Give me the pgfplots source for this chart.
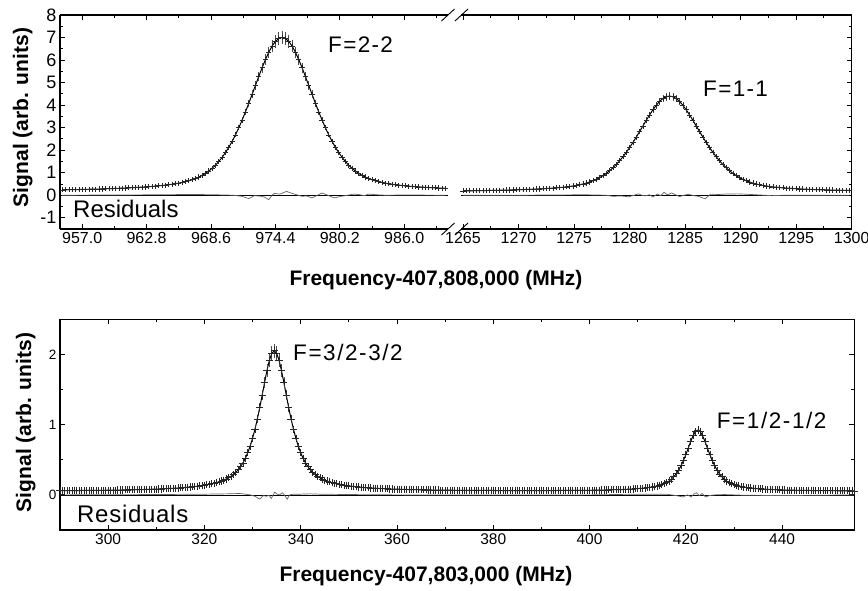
\documentclass[border=0pt]{standalone}
\usepackage{fontspec}
\setmainfont{Liberation Sans}
\usepackage{pgfplots}
\usepackage{pgfplotstable}
\pgfplotsset{compat=1.18}

\newcommand\fs[1]{\fontsize{#1}{#1}\selectfont}

% F=2-2 line (upper panel, left part)
\pgfplotstableread{
x y
955.2 0.238
955.5 0.241
955.8 0.244
956.1 0.247
956.4 0.249
956.7 0.253
957.0 0.256
957.3 0.260
957.6 0.264
957.9 0.267
958.2 0.271
958.5 0.275
958.8 0.280
959.1 0.285
959.4 0.290
959.7 0.295
960.0 0.301
960.3 0.307
960.6 0.313
960.9 0.319
961.2 0.327
961.5 0.334
961.8 0.342
962.1 0.350
962.4 0.359
962.7 0.369
963.0 0.379
963.3 0.391
963.6 0.403
963.9 0.416
964.2 0.432
964.5 0.447
964.8 0.466
965.1 0.486
965.4 0.509
965.7 0.534
966.0 0.564
966.3 0.599
966.6 0.638
966.9 0.686
967.2 0.740
967.5 0.805
967.8 0.880
968.1 0.969
968.4 1.073
968.7 1.195
969.0 1.334
969.3 1.497
969.6 1.682
969.9 1.891
970.2 2.126
970.5 2.391
970.8 2.678
971.1 2.995
971.4 3.334
971.7 3.699
972.0 4.079
972.3 4.474
972.6 4.874
972.9 5.274
973.2 5.660
973.5 6.023
973.8 6.347
974.1 6.620
974.4 6.827
974.7 6.956
975.0 7.000
975.3 6.956
975.6 6.827
975.9 6.620
976.2 6.347
976.5 6.023
976.8 5.660
977.1 5.274
977.4 4.874
977.7 4.474
978.0 4.079
978.3 3.699
978.6 3.334
978.9 2.995
979.2 2.678
979.5 2.391
979.8 2.126
980.1 1.891
980.4 1.682
980.7 1.497
981.0 1.334
981.3 1.195
981.6 1.073
981.9 0.969
982.2 0.880
982.5 0.805
982.8 0.740
983.1 0.686
983.4 0.638
983.7 0.599
984.0 0.564
984.3 0.534
984.6 0.509
984.9 0.486
985.2 0.466
985.5 0.447
985.8 0.432
986.1 0.416
986.4 0.403
986.7 0.391
987.0 0.379
987.3 0.369
987.6 0.359
987.9 0.350
988.2 0.342
988.5 0.334
988.8 0.327
989.1 0.319
989.4 0.313
989.7 0.307
}\tabA

% F=1-1 line (upper panel, right part)
\pgfplotstableread{
x y
1265.0 0.192
1265.3 0.194
1265.6 0.196
1265.9 0.198
1266.2 0.201
1266.5 0.203
1266.8 0.206
1267.1 0.208
1267.4 0.211
1267.7 0.214
1268.0 0.217
1268.3 0.221
1268.6 0.224
1268.9 0.228
1269.2 0.232
1269.5 0.235
1269.8 0.240
1270.1 0.244
1270.4 0.250
1270.7 0.255
1271.0 0.260
1271.3 0.267
1271.6 0.273
1271.9 0.280
1272.2 0.288
1272.5 0.296
1272.8 0.305
1273.1 0.315
1273.4 0.327
1273.7 0.339
1274.0 0.354
1274.3 0.370
1274.6 0.388
1274.9 0.410
1275.2 0.434
1275.5 0.464
1275.8 0.498
1276.1 0.538
1276.4 0.585
1276.7 0.641
1277.0 0.705
1277.3 0.781
1277.6 0.868
1277.9 0.969
1278.2 1.085
1278.5 1.215
1278.8 1.362
1279.1 1.527
1279.4 1.706
1279.7 1.904
1280.0 2.115
1280.3 2.342
1280.6 2.579
1280.9 2.826
1281.2 3.075
1281.5 3.324
1281.8 3.565
1282.1 3.791
1282.4 3.993
1282.7 4.163
1283.0 4.292
1283.3 4.372
1283.6 4.400
1283.9 4.372
1284.2 4.292
1284.5 4.163
1284.8 3.993
1285.1 3.791
1285.4 3.565
1285.7 3.324
1286.0 3.075
1286.3 2.826
1286.6 2.579
1286.9 2.342
1287.2 2.115
1287.5 1.904
1287.8 1.706
1288.1 1.527
1288.4 1.362
1288.7 1.215
1289.0 1.085
1289.3 0.969
1289.6 0.868
1289.9 0.781
1290.2 0.705
1290.5 0.641
1290.8 0.585
1291.1 0.538
1291.4 0.498
1291.7 0.464
1292.0 0.434
1292.3 0.410
1292.6 0.388
1292.9 0.370
1293.2 0.354
1293.5 0.339
1293.8 0.327
1294.1 0.315
1294.4 0.305
1294.7 0.296
1295.0 0.288
1295.3 0.280
1295.6 0.273
1295.9 0.267
1296.2 0.260
1296.5 0.255
1296.8 0.250
1297.1 0.244
1297.4 0.240
1297.7 0.235
1298.0 0.232
1298.3 0.228
1298.6 0.224
1298.9 0.221
1299.2 0.217
1299.5 0.214
1299.8 0.211
}\tabB

% lower panel, F=3/2-3/2 and F=1/2-1/2
\pgfplotstableread{
x y
290 0.060
290.5 0.061
291 0.061
291.5 0.061
292 0.061
292.5 0.061
293 0.062
293.5 0.062
294 0.062
294.5 0.063
295 0.063
295.5 0.063
296 0.064
296.5 0.064
297 0.064
297.5 0.065
298 0.065
298.5 0.065
299 0.066
299.5 0.066
300 0.067
300.5 0.067
301 0.068
301.5 0.068
302 0.069
302.5 0.069
303 0.070
303.5 0.071
304 0.071
304.5 0.072
305 0.073
305.5 0.073
306 0.074
306.5 0.075
307 0.076
307.5 0.077
308 0.078
308.5 0.079
309 0.080
309.5 0.081
310 0.082
310.5 0.084
311 0.085
311.5 0.087
312 0.088
312.5 0.090
313 0.092
313.5 0.094
314 0.096
314.5 0.098
315 0.100
315.5 0.103
316 0.106
316.5 0.109
317 0.112
317.5 0.115
318 0.119
318.5 0.123
319 0.128
319.5 0.133
320 0.138
320.5 0.144
321 0.151
321.5 0.158
322 0.166
322.5 0.175
323 0.185
323.5 0.197
324 0.210
324.5 0.226
325 0.243
325.5 0.265
326 0.290
326.5 0.320
327 0.357
327.5 0.401
328 0.455
328.5 0.521
329 0.600
329.5 0.694
330 0.806
330.5 0.935
331 1.082
331.5 1.245
332 1.421
332.5 1.601
333 1.772
333.5 1.918
334 2.016
334.5 2.051
335 2.016
335.5 1.918
336 1.772
336.5 1.601
337 1.421
337.5 1.245
338 1.082
338.5 0.935
339 0.806
339.5 0.694
340 0.600
340.5 0.521
341 0.455
341.5 0.401
342 0.357
342.5 0.320
343 0.290
343.5 0.265
344 0.243
344.5 0.226
345 0.210
345.5 0.197
346 0.185
346.5 0.175
347 0.166
347.5 0.158
348 0.151
348.5 0.144
349 0.138
349.5 0.133
350 0.128
350.5 0.123
351 0.119
351.5 0.116
352 0.112
352.5 0.109
353 0.106
353.5 0.103
354 0.101
354.5 0.098
355 0.096
355.5 0.094
356 0.092
356.5 0.090
357 0.089
357.5 0.087
358 0.086
358.5 0.084
359 0.083
359.5 0.082
360 0.081
360.5 0.080
361 0.079
361.5 0.078
362 0.077
362.5 0.076
363 0.075
363.5 0.074
364 0.074
364.5 0.073
365 0.072
365.5 0.072
366 0.071
366.5 0.070
367 0.070
367.5 0.069
368 0.069
368.5 0.069
369 0.068
369.5 0.068
370 0.067
370.5 0.067
371 0.067
371.5 0.066
372 0.066
372.5 0.066
373 0.065
373.5 0.065
374 0.065
374.5 0.065
375 0.064
375.5 0.064
376 0.064
376.5 0.064
377 0.064
377.5 0.063
378 0.063
378.5 0.063
379 0.063
379.5 0.063
380 0.063
380.5 0.062
381 0.062
381.5 0.062
382 0.062
382.5 0.062
383 0.062
383.5 0.062
384 0.062
384.5 0.062
385 0.062
385.5 0.062
386 0.062
386.5 0.062
387 0.062
387.5 0.062
388 0.062
388.5 0.062
389 0.062
389.5 0.062
390 0.062
390.5 0.062
391 0.062
391.5 0.062
392 0.062
392.5 0.062
393 0.062
393.5 0.063
394 0.063
394.5 0.063
395 0.063
395.5 0.063
396 0.063
396.5 0.064
397 0.064
397.5 0.064
398 0.064
398.5 0.065
399 0.065
399.5 0.065
400 0.066
400.5 0.066
401 0.067
401.5 0.067
402 0.068
402.5 0.069
403 0.069
403.5 0.070
404 0.071
404.5 0.072
405 0.073
405.5 0.074
406 0.075
406.5 0.076
407 0.077
407.5 0.079
408 0.081
408.5 0.082
409 0.084
409.5 0.087
410 0.089
410.5 0.092
411 0.095
411.5 0.099
412 0.103
412.5 0.107
413 0.113
413.5 0.119
414 0.126
414.5 0.135
415 0.146
415.5 0.160
416 0.176
416.5 0.197
417 0.224
417.5 0.258
418 0.300
418.5 0.352
419 0.414
419.5 0.488
420 0.573
420.5 0.665
421 0.758
421.5 0.842
422 0.901
422.5 0.923
423 0.901
423.5 0.841
424 0.758
424.5 0.664
425 0.572
425.5 0.488
426 0.414
426.5 0.351
427 0.299
427.5 0.257
428 0.223
428.5 0.197
429 0.176
429.5 0.159
430 0.146
430.5 0.135
431 0.126
431.5 0.118
432 0.112
432.5 0.106
433 0.102
433.5 0.098
434 0.094
434.5 0.091
435 0.088
435.5 0.086
436 0.083
436.5 0.081
437 0.079
437.5 0.078
438 0.076
438.5 0.075
439 0.073
439.5 0.072
440 0.070
440.5 0.069
441 0.068
441.5 0.068
442 0.067
442.5 0.066
443 0.065
443.5 0.065
444 0.064
444.5 0.064
445 0.063
445.5 0.063
446 0.062
446.5 0.062
447 0.061
447.5 0.061
448 0.061
448.5 0.060
449 0.060
449.5 0.060
450 0.059
450.5 0.059
451 0.059
451.5 0.059
452 0.058
452.5 0.058
453 0.058
453.5 0.058
454 0.058
454.5 0.057
455 0.057
}\tabC

\pgfplotsset{
  panel/.style={
    scale only axis, anchor=south west, clip=true,
    axis line style={line width=1.1pt, -},
    tick style={line width=0.9pt, black},
    major tick length=5pt, minor tick length=3pt,
    tick align=inside,
    /pgf/number format/assume math mode=true,
    /pgf/number format/1000 sep={},
  },
  fitline/.style={black, line width=1pt},
  pts/.style 2 args={only marks, mark=+, mark size=#1,
    mark options={line width=0.7pt, black!85},
    error bars/.cd, y dir=both, y fixed relative=#2, error mark=none,
    error bar style={line width=0.7pt, black!70}},
  resid/.style={black!60, line width=0.7pt},
  zero/.style={black, line width=0.7pt},
}

\begin{document}
\begin{tikzpicture}
\path[use as bounding box] (0,0) rectangle (868pt,-591pt);

% upper panel, left of the break
\begin{axis}[panel, at={(60pt,-229pt)}, width=388pt, height=214pt,
  xmin=955, xmax=989.94, ymin=-1.5, ymax=8,
  axis y line*=left, axis x line*=box, ytick pos=left, xtick pos=both,
  xtick={957.0,962.8,968.6,974.4,980.2,986.0},
  minor xtick={959.9,965.7,971.5,977.3,983.1,988.9},
  ytick={-1,0,...,8}, minor ytick={-0.5,0.5,...,7.5},
  xticklabel style={font=\fs{16}, /pgf/number format/.cd, fixed, fixed zerofill, precision=1},
  yticklabel style={font=\fs{18}},
]
\addplot[zero] coordinates {(955,0) (989.94,0)};
\addplot[resid] coordinates {(955.2,0) (960,0.01) (964,0.02) (966,0.03) (967.6,0.03)
  (969,0.02) (970.6,0) (971.4,-0.05) (972.0,-0.15) (972.5,-0.02) (973.0,-0.04)
  (973.4,-0.08) (973.8,-0.2) (974.1,0) (974.3,0.08) (974.8,0.05) (975.4,0.17)
  (975.8,0.1) (976.1,0.05) (976.8,-0.05) (977.2,-0.03) (977.7,-0.12) (978.1,-0.02)
  (978.6,0.1) (979.1,0) (979.7,-0.12) (980.3,-0.05) (980.9,0) (981.5,0.05)
  (981.9,0.03) (982.4,-0.02) (982.8,0.05) (983.5,0.02) (984.3,0) (986,0.01) (989.7,0)};
\addplot[fitline] table {\tabA};
\addplot[pts={2.6pt}{0.04}] table {\tabA};
\end{axis}

% upper panel, right of the break
\begin{axis}[panel, at={(461pt,-229pt)}, width=390.7pt, height=214pt,
  xmin=1264.82, xmax=1300, ymin=-1.5, ymax=8,
  axis y line*=right, axis x line*=box, ytick pos=right, xtick pos=both,
  yticklabels={},
  xtick={1265,1270,...,1300},
  minor xtick={1267.5,1272.5,...,1297.5},
  ytick={-1,0,...,8}, minor ytick={-0.5,0.5,...,7.5},
  xticklabel style={font=\fs{16}},
]
\addplot[zero] coordinates {(1264.82,0) (1300,0)};
\addplot[resid] coordinates {(1265,0) (1270,0) (1276,0.02) (1277.9,0) (1278.5,-0.05)
  (1279.2,-0.03) (1279.9,-0.07) (1280.4,0) (1280.8,0.06) (1281.1,0) (1281.4,-0.03)
  (1281.8,0.02) (1282.1,-0.08) (1282.5,0.05) (1282.8,-0.02) (1283.1,0.13)
  (1283.4,0.02) (1283.8,0.1) (1284.1,0.03) (1284.5,-0.06) (1284.9,0) (1285.3,0.04)
  (1285.8,-0.02) (1286.2,-0.05) (1286.8,-0.16) (1287.3,0.05) (1288,0.03)
  (1288.6,0.05) (1289.8,0.06) (1291,0.03) (1292.8,-0.02) (1294,0) (1299.8,0)};
\addplot[fitline] table {\tabB};
\addplot[pts={2.6pt}{0.04}] table {\tabB};
\end{axis}

% lower panel
\begin{axis}[panel, at={(60pt,-530pt)}, width=794.3pt, height=210.7pt,
  xmin=290, xmax=455, ymin=-0.5, ymax=2.5,
  xtick={300,320,...,440}, minor x tick num=1,
  ytick={0,1,2}, minor ytick={0.5,1.5},
  xticklabel style={font=\fs{15.5}},
  yticklabel style={font=\fs{13.5}},
]
\addplot[zero] coordinates {(290,0) (455,0)};
\addplot[resid] coordinates {(290,0) (310,0.005) (320,0.01) (325,0.015) (327.3,0.02)
  (328.5,0.01) (329.5,0) (330.5,-0.02) (331.5,-0.06) (332.2,-0.01) (332.9,-0.02)
  (333.4,-0.005) (333.9,-0.05) (334.6,0.04) (335.1,0.01) (335.6,0) (336.2,0.03)
  (336.7,-0.01) (337.2,-0.06) (337.7,0) (338.5,0.01) (339.8,0.01) (342,0.015)
  (344,0.01) (350,0.005) (360,0) (380,-0.003) (400,0) (410,0.01) (416,0.01)
  (418.0,-0.01) (418.7,-0.02) (419.4,-0.03) (420.0,-0.01) (420.4,0) (421.1,-0.03)
  (421.6,0.01) (422.2,0.03) (422.8,-0.01) (423.4,0.02) (424.1,-0.03) (424.9,-0.01)
  (426,0) (428,0.005) (432,-0.005) (440,-0.01) (448,-0.005) (455,0)};
\addplot[fitline] table {\tabC};
\addplot[pts={3.6pt}{0.05}] table {\tabC};
\end{axis}

% axis break marks
\foreach \yy in {-15pt,-229pt} {
  \draw[line width=0.9pt] (441.5pt,\yy-6pt) -- (454.5pt,\yy+6pt);
  \draw[line width=0.9pt] (455pt,\yy-6pt) -- (468pt,\yy+6pt);
}

% axis titles
\node[rotate=90, anchor=base, inner sep=0pt, font=\bfseries\fs{21}] at (28pt,-117.5pt) {Signal (arb. units)};
\node[rotate=90, anchor=base, inner sep=0pt, font=\bfseries\fs{21}] at (31pt,-422.5pt) {Signal (arb. units)};
\node[anchor=base, inner sep=0pt, font=\bfseries\fs{21}] at (436pt,-285pt) {Frequency-407,808,000 (MHz)};
\node[anchor=base, inner sep=0pt, font=\bfseries\fs{21}] at (426pt,-581pt) {Frequency-407,803,000 (MHz)};

% annotations
\node[anchor=base west, inner sep=0pt, font=\fs{22.5}\addfontfeature{LetterSpace=6}] at (328pt,-53pt) {F=2-2};
\node[anchor=base west, inner sep=0pt, font=\fs{22.5}\addfontfeature{LetterSpace=6}] at (703pt,-97pt) {F=1-1};
\node[anchor=base west, inner sep=0pt, font=\fs{22.5}\addfontfeature{LetterSpace=7}] at (293pt,-360.7pt) {F=3/2-3/2};
\node[anchor=base west, inner sep=0pt, font=\fs{22.5}\addfontfeature{LetterSpace=7}] at (716.7pt,-428pt) {F=1/2-1/2};
\node[anchor=base west, inner sep=0pt, font=\fs{24}] at (73pt,-218pt) {Residuals};
\node[anchor=base west, inner sep=0pt, font=\fs{24}\addfontfeature{LetterSpace=3}] at (77pt,-522.5pt) {Residuals};
\end{tikzpicture}
\end{document}
